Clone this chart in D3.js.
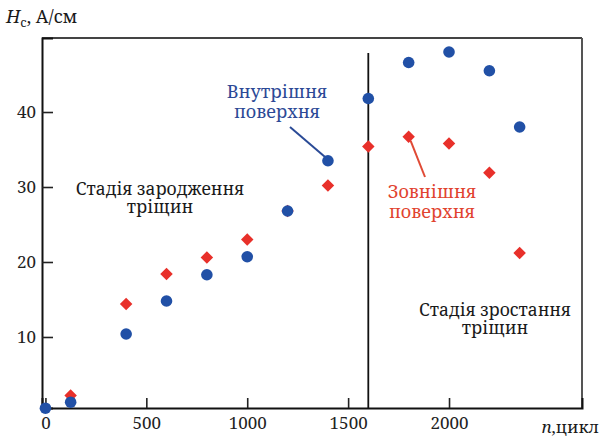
<!DOCTYPE html>
<html><head><meta charset="utf-8">
<script src="https://cdn.jsdelivr.net/npm/d3@7"></script>
<style>
html,body{margin:0;padding:0;background:#fff;}
</style></head>
<body><svg id="c" width="605" height="439"></svg>
<script>
const xTicks = [0, 500, 1000, 1500, 2000];
const yTicks = [10, 20, 30, 40];
const innerX = [0, 125, 400, 600, 800, 1000, 1200, 1400, 1600, 1800, 2000, 2200, 2350];
const innerY = [0.5, 1.3, 10.4, 14.8, 18.3, 20.7, 26.8, 33.5, 41.8, 46.6, 48.0, 45.5, 38.0];
const outerX = [125, 400, 600, 800, 1000, 1200, 1400, 1600, 1800, 2000, 2200, 2350];
const outerY = [2.2, 14.4, 18.4, 20.6, 23.0, 26.8, 30.2, 35.4, 36.7, 35.8, 31.9, 21.2];
const boundaryN = 1600;

const FONT = "Noto Serif";
const svg = d3.select("#c");
const x = d3.scaleLinear().domain([-17, 2659]).range([42, 582]);
const y = d3.scaleLinear().domain([0.53, 49.87]).range([408, 38]);
const blue = "#2150a6", red = "#e8302a";

// frame
svg.append("line").attr("x1", x.range()[0]).attr("x2", x.range()[1]).attr("y1", y.range()[1]).attr("y2", y.range()[1]).attr("stroke", "#444").attr("stroke-width", 2);
svg.append("line").attr("x1", x.range()[1]).attr("x2", x.range()[1]).attr("y1", y.range()[1]).attr("y2", y.range()[0]).attr("stroke", "#555").attr("stroke-width", 2);

// axes
const xAxis = d3.axisBottom(x).tickValues(xTicks).tickSize(-10).tickPadding(9).tickFormat(d3.format("d"));
const gx = svg.append("g").attr("transform", `translate(0,${y.range()[0]})`).call(xAxis);
const yAxis = d3.axisLeft(y).tickValues(yTicks).tickSize(-11).tickPadding(6);
const gy = svg.append("g").attr("transform", `translate(${x.range()[0]},0)`).call(yAxis);
[gx, gy].forEach(g => {
  g.attr("font-family", FONT).attr("font-size", 17);
  g.select(".domain").attr("stroke", "#111").attr("stroke-width", 2);
  g.selectAll(".tick line").attr("stroke", "#222").attr("stroke-width", 1.6);
  g.selectAll(".tick text").attr("fill", "#222");
});
gy.selectAll(".tick text").attr("x", -6);

// boundary line
svg.append("line").attr("x1", x(boundaryN)).attr("x2", x(boundaryN)).attr("y1", 53).attr("y2", y.range()[0]).attr("stroke", "#111").attr("stroke-width", 1.8);

// leader lines
svg.append("line").attr("x1", 290).attr("y1", 127).attr("x2", x(innerX[7]) - 2).attr("y2", y(innerY[7]) - 3).attr("stroke", "#2a4a96").attr("stroke-width", 2);
svg.append("line").attr("x1", x(outerX[8]) + 2).attr("y1", y(outerY[8]) + 4).attr("x2", 425).attr("y2", 177).attr("stroke", "#e04a35").attr("stroke-width", 2);

// points
svg.append("g").selectAll("path").data(outerX.map((d, i) => [d, outerY[i]])).join("path")
  .attr("d", d3.symbol(d3.symbolSquare, 78)())
  .attr("transform", d => `translate(${x(d[0])},${y(d[1])}) rotate(45)`)
  .attr("fill", red);
svg.append("g").selectAll("circle").data(innerX.map((d, i) => [d, innerY[i]])).join("circle")
  .attr("cx", d => x(d[0])).attr("cy", d => y(d[1])).attr("r", 5.8).attr("fill", blue);

// labels
function multi(lines, cx, y0, dy, color, size) {
  const t = svg.append("text").attr("text-anchor", "middle").attr("fill", color).attr("font-size", size).attr("font-family", FONT);
  lines.forEach((l, i) => t.append("tspan").attr("x", cx).attr("y", y0 + i * dy).text(l));
}
multi(["Внутрішня", "поверхня"], 277, 98, 20, "#2c4996", 18);
multi(["Зовнішня", "поверхня"], 432, 198, 20, "#e1432f", 18);
multi(["Стадія зародження", "тріщин"], 160, 195, 18, "#1a1a1a", 17.5);
multi(["Стадія зростання", "тріщин"], 495, 316, 18, "#1a1a1a", 17.5);

// axis titles
const yt = svg.append("text").attr("x", 6).attr("y", 23).attr("fill", "#1a1a1a").attr("font-size", 18).attr("font-family", FONT);
yt.append("tspan").attr("font-style", "italic").text("H");
yt.append("tspan").attr("dy", 4).attr("font-size", 13).text("c");
yt.append("tspan").attr("dy", -4).text(", А/см");
const xt = svg.append("text").attr("x", 599).attr("y", 433).attr("text-anchor", "end").attr("fill", "#1a1a1a").attr("font-size", 17).attr("font-family", FONT);
xt.append("tspan").attr("font-style", "italic").text("n");
xt.append("tspan").text(",цикл");
</script></body></html>
